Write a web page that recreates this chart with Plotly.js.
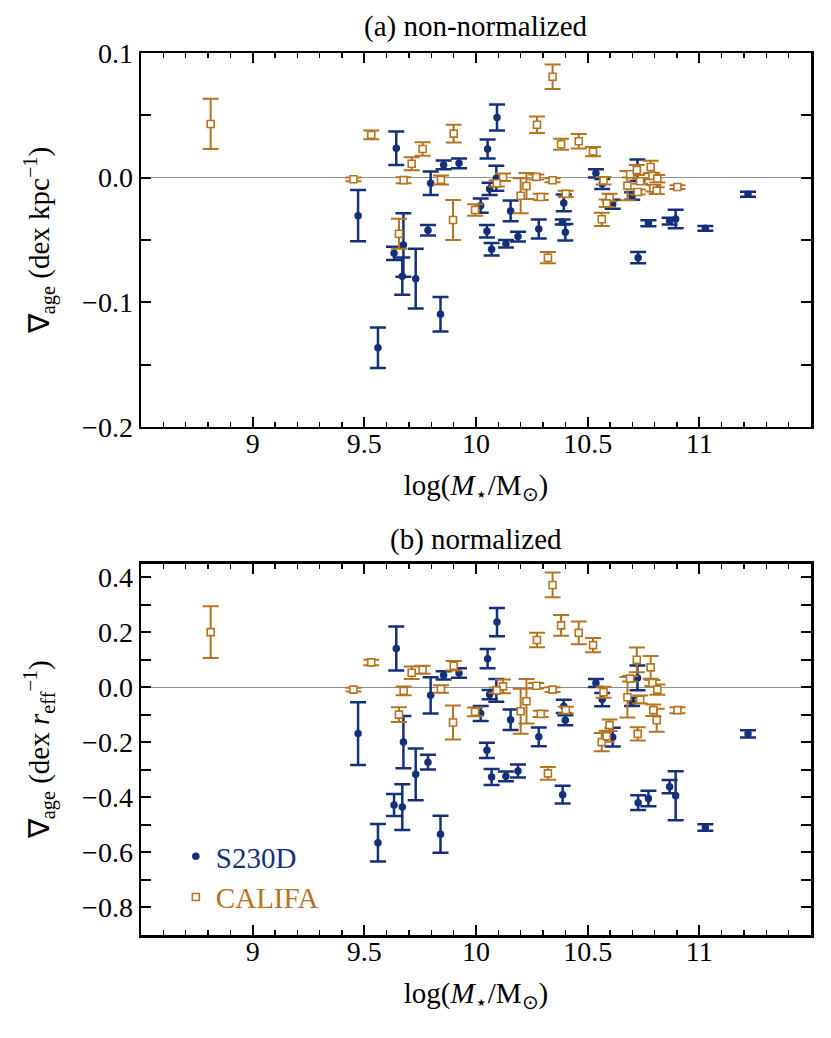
<!DOCTYPE html>
<html>
<head>
<meta charset="utf-8">
<script src="https://cdn.plot.ly/plotly-3.0.1.min.js"></script>
<style>html,body{margin:0;padding:0;background:#fff;}</style>
</head>
<body>
<div id="chart" style="width:831px;height:1038px;"></div>
<script>
// ---- S230D sample ----
const s230dMass = [9.472, 9.561, 9.633, 9.643, 9.675, 9.670, 9.730, 9.785, 9.797, 9.841, 9.855, 9.924,
  10.052, 10.094, 10.091, 10.061, 10.021, 10.049, 10.070, 10.134, 10.188, 10.155, 10.281, 10.393, 10.388,
  10.400, 10.537, 10.565, 10.612, 10.699, 10.723, 10.772, 10.867, 10.894, 11.027, 11.218, 10.726];
const s230dGrad = [-0.0305, -0.1364, -0.0607, 0.0236, -0.054, -0.079, -0.081, -0.0422, -0.0045, -0.1096, 0.0102, 0.0115,
  0.023, 0.0482, -0.0005, -0.009, -0.0225, -0.043, -0.0575, -0.053, -0.0473, -0.0267, -0.0412, -0.0203, -0.0355,
  -0.0438, 0.0035, -0.005, -0.0214, -0.0147, 0.006, -0.0366, -0.0348, -0.0331, -0.0406, -0.0134, -0.0642];
const s230dGradErr = [0.0206, 0.0162, 0.0053, 0.0134, 0.0254, 0.015, 0.024, 0.0043, 0.0095, 0.0138, 0.0035, 0.0039,
  0.0076, 0.0104, 0.010, 0.005, 0.0057, 0.005, 0.005, 0.003, 0.0039, 0.0083, 0.0076, 0.0067, 0.002,
  0.0066, 0.0033, 0.004, 0.0036, 0.003, 0.0086, 0.0024, 0.0027, 0.0074, 0.0019, 0.002, 0.0045];
const s230dNorm = [-0.168, -0.565, -0.4275, 0.1413, -0.199, -0.435, -0.316, -0.272, -0.029, -0.534, 0.0435, 0.052,
  0.104, 0.237, -0.011, -0.0264, -0.095, -0.229, -0.326, -0.3235, -0.304, -0.118, -0.18, -0.069, -0.39,
  -0.1196, 0.016, -0.0446, -0.181, -0.053, 0.034, -0.404, -0.361, -0.3936, -0.5095, -0.169, -0.419];
const s230dNormErr = [0.114, 0.068, 0.04, 0.08, 0.095, 0.083, 0.094, 0.027, 0.066, 0.067, 0.015, 0.017,
  0.035, 0.051, 0.041, 0.017, 0.027, 0.028, 0.029, 0.018, 0.024, 0.037, 0.034, 0.024, 0.032,
  0.018, 0.0145, 0.024, 0.034, 0.015, 0.045, 0.028, 0.024, 0.089, 0.012, 0.013, 0.027];

// ---- CALIFA sample ----
const califaMass = [8.812, 9.531, 9.761, 9.712, 9.900, 9.451, 9.676, 9.843, 9.897, 9.996, 9.655, 10.343, 10.273,
  10.381, 10.460, 10.524, 10.571, 10.121, 10.093, 10.226, 10.200, 10.270, 10.343, 10.290, 10.402, 10.563,
  10.598, 10.585, 10.678, 10.690, 10.720, 10.735, 10.724, 10.782, 10.790, 10.812, 10.794, 10.809, 10.902, 10.322];
const califaGrad = [0.0431, 0.0343, 0.023, 0.0112, 0.0353, -0.0013, -0.002, -0.0018, -0.034, -0.026, -0.045, 0.081, 0.0425,
  0.0268, 0.0292, 0.0209, -0.0024, 0.0003, -0.0045, -0.0067, -0.0145, 0.0006, -0.0021, -0.0155, -0.013, -0.0334,
  -0.016, -0.0206, -0.0064, 0.0027, 0.0062, -0.0029, -0.0115, 0.0086, 0.0014, -0.0008, -0.0085, -0.0104, -0.0075, -0.0642];
const califaGradErr = [0.0202, 0.0035, 0.0055, 0.0052, 0.0071, 0.0015, 0.0024, 0.0036, 0.016, 0.0046, 0.012, 0.0098, 0.0066,
  0.0045, 0.0058, 0.0037, 0.003, 0.003, 0.0025, 0.0104, 0.014, 0.002, 0.0016, 0.0025, 0.0025, 0.0053,
  0.003, 0.003, 0.0118, 0.0025, 0.004, 0.002, 0.002, 0.005, 0.0025, 0.003, 0.0027, 0.0027, 0.0015, 0.0045];
const califaNorm = [0.2007, 0.0906, 0.064, 0.053, 0.0786, -0.0083, -0.013, -0.006, -0.128, -0.089, -0.099, 0.372, 0.172,
  0.225, 0.198, 0.1535, -0.018, 0.0036, -0.011, -0.0507, -0.087, 0.006, -0.0083, -0.0965, -0.083, -0.199,
  -0.1375, -0.1775, -0.036, 0.0315, 0.1, -0.0446, -0.169, 0.0725, 0.016, -0.0083, -0.083, -0.1195, -0.083, -0.3127];
const califaNormErr = [0.094, 0.01, 0.0145, 0.023, 0.017, 0.007, 0.016, 0.014, 0.062, 0.016, 0.027, 0.045, 0.026,
  0.038, 0.041, 0.026, 0.02, 0.025, 0.01, 0.081, 0.0815, 0.01, 0.009, 0.011, 0.012, 0.033,
  0.021, 0.02, 0.074, 0.01, 0.045, 0.0145, 0.024, 0.041, 0.011, 0.019, 0.021, 0.042, 0.011, 0.0235];

// ---- tick labels ----
const xTickVals = [9, 9.5, 10, 10.5, 11];
const xTickText = ['9', '9.5', '10', '10.5', '11'];
const yaTickVals = [-0.2, -0.1, 0, 0.1];
const yaTickText = ['\u22120.2', '\u22120.1', '0.0', '0.1'];
const ybTickVals = [-0.8, -0.6, -0.4, -0.2, 0, 0.2, 0.4];
const ybTickText = ['\u22120.8', '\u22120.6', '\u22120.4', '\u22120.2', '0.0', '0.2', '0.4'];

const NAVY = '#15307a';
const BROWN = '#b5741f';
const FONT = 'Liberation Serif';

function s230dTrace(y, err, xa, ya, show) {
  return {
    x: s230dMass, y: y, xaxis: xa, yaxis: ya, type: 'scatter', mode: 'markers',
    name: '<span style="color:' + NAVY + '">S230D</span>', showlegend: show, legendgroup: 's',
    marker: {symbol: 'circle', size: 7.5, color: NAVY},
    error_y: {type: 'data', array: err, visible: true, color: NAVY, thickness: 2.5, width: 8}
  };
}
function califaTrace(y, err, xa, ya, show) {
  return {
    x: califaMass, y: y, xaxis: xa, yaxis: ya, type: 'scatter', mode: 'markers',
    name: '<span style="color:' + BROWN + '">CALIFA</span>', showlegend: show, legendgroup: 'c',
    marker: {symbol: 'square', size: 7, color: '#ffffff', line: {color: BROWN, width: 1.6}},
    error_y: {type: 'data', array: err, visible: true, color: BROWN, thickness: 2, width: 8}
  };
}

const data = [
  s230dTrace(s230dGrad, s230dGradErr, 'x', 'y', false),
  califaTrace(califaGrad, califaGradErr, 'x', 'y', false),
  s230dTrace(s230dNorm, s230dNormErr, 'x2', 'y2', true),
  califaTrace(califaNorm, califaNormErr, 'x2', 'y2', true)
];

const tickFont = {family: FONT, size: 28, color: '#000'};
function xAxis(anchor) {
  return {
    anchor: anchor, range: [8.5, 11.5], tickmode: 'array', tickvals: xTickVals, ticktext: xTickText,
    ticks: 'inside', ticklen: 10, tickwidth: 2, tickcolor: '#000', mirror: 'allticks',
    showline: true, linewidth: 2.5, linecolor: '#000', showgrid: false, zeroline: false,
    minor: {tickmode: 'linear', tick0: 8.5, dtick: 0.1, ticks: 'inside', ticklen: 5, tickwidth: 1.5, tickcolor: '#000', showgrid: false},
    tickfont: tickFont, ticklabelstandoff: -10,
    title: {text: 'log(<i>M</i><sub>\u22c6</sub>/M<sub>\u2299</sub>)', font: {family: FONT, size: 29, color: '#000'}, standoff: 17}
  };
}
function yAxis(anchor, domain, range, vals, text, minorStep, title) {
  return {
    anchor: anchor, domain: domain, range: range, tickmode: 'array', tickvals: vals, ticktext: text,
    ticks: 'inside', ticklen: 10, tickwidth: 2, tickcolor: '#000', mirror: 'allticks',
    showline: true, linewidth: 2.5, linecolor: '#000', showgrid: false,
    minor: {tickmode: 'linear', tick0: 0, dtick: minorStep, ticks: 'inside', ticklen: 10, tickwidth: 2, tickcolor: '#000', showgrid: false},
    zeroline: true, zerolinecolor: '#8f8f8f', zerolinewidth: 1.5,
    tickfont: tickFont,
    title: {text: title, font: {family: FONT, size: 29, color: '#000'}, standoff: 24}
  };
}

const layout = {
  width: 831, height: 1038,
  margin: {l: 141, r: 20, t: 53, b: 103},
  paper_bgcolor: '#fff', plot_bgcolor: '#fff',
  font: {family: FONT, color: '#000'},
  xaxis: xAxis('y'),
  yaxis: yAxis('x', [0.576, 1], [-0.2, 0.1], yaTickVals, yaTickText, 0.05, '\u2207<sub>age</sub> (dex kpc<sup>\u22121</sup>)'),
  xaxis2: xAxis('y2'),
  yaxis2: yAxis('x2', [0, 0.4212], [-0.9, 0.45], ybTickVals, ybTickText, 0.1, '\u2207<sub>age</sub> (dex <i>r</i><sub>eff</sub><sup>\u22121</sup>)'),
  showlegend: true,
  legend: {x: 0.052, y: 0.118, xanchor: 'left', yanchor: 'top', bgcolor: 'rgba(0,0,0,0)',
    font: {family: FONT, size: 29}, tracegroupgap: 0, itemwidth: 30},
  annotations: [
    {text: '(a) non-normalized', xref: 'paper', yref: 'paper', x: 0.5, y: 1.03, xanchor: 'center', yanchor: 'middle',
      showarrow: false, font: {family: FONT, size: 29, color: '#000'}},
    {text: '(b) normalized', xref: 'paper', yref: 'paper', x: 0.5, y: 0.448, xanchor: 'center', yanchor: 'middle',
      showarrow: false, font: {family: FONT, size: 29, color: '#000'}}
  ]
};

Plotly.newPlot('chart', data, layout, {displayModeBar: false, staticPlot: true});
</script>
</body>
</html>
